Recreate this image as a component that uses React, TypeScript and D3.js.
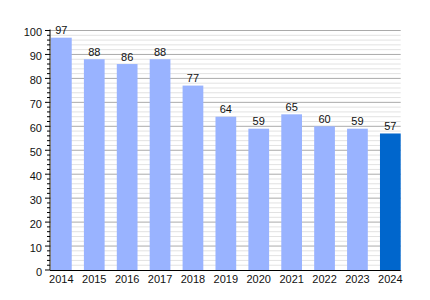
import React from "react";
import * as d3 from "d3";

const years = ["2014", "2015", "2016", "2017", "2018", "2019", "2020", "2021", "2022", "2023", "2024"];
const values = [97, 88, 86, 88, 77, 64, 59, 65, 60, 59, 57];
const yMajorTicks = [0, 10, 20, 30, 40, 50, 60, 70, 80, 90, 100];

const W = 430, H = 300;
const left = 50, right = 400.7, top = 30.5, bottom = 270;

export default function App() {
  const x = d3.scaleBand<string>().domain(years).range([left + 1, right]).paddingInner(0.37).paddingOuter(0);
  const y = d3.scaleLinear().domain([0, 100]).range([bottom, top]);
  const minor = d3.range(0, 101, 2).filter((v) => v % 10 !== 0);
  const font = "Liberation Sans, Arial, sans-serif";
  return (
    <svg width={W} height={H} style={{ position: "absolute", left: 0, top: 0, background: "#fff" }}>
      {minor.map((v) => (
        <line key={"m" + v} x1={left} x2={right} y1={y(v)} y2={y(v)} stroke="#e2e2e2" strokeWidth={1} />
      ))}
      {yMajorTicks.filter((v) => v > 0).map((v) => (
        <line key={"M" + v} x1={left} x2={right} y1={y(v)} y2={y(v)} stroke="#aaaaaa" strokeWidth={1} />
      ))}
      {years.map((yr, i) => (
        <rect
          key={yr}
          x={x(yr)}
          y={y(values[i])}
          width={x.bandwidth()}
          height={bottom - y(values[i])}
          fill={i === years.length - 1 ? "#0066cc" : "#99b3ff"}
        />
      ))}
      {years.map((yr, i) => (
        <text
          key={"v" + yr}
          x={(x(yr) as number) + x.bandwidth() / 2}
          y={y(values[i]) - 3.5}
          textAnchor="middle"
          fontFamily={font}
          fontSize={11}
          fill="#111"
        >
          {values[i]}
        </text>
      ))}
      {/* axes */}
      <line x1={left} x2={left} y1={top - 1} y2={bottom} stroke="#000" strokeWidth={1} />
      <line x1={left} x2={right} y1={bottom + 0.5} y2={bottom + 0.5} stroke="#000" strokeWidth={1} />
      {minor.map((v) => (
        <line key={"mt" + v} x1={left - 3} x2={left} y1={y(v)} y2={y(v)} stroke="#000" strokeWidth={1} />
      ))}
      {yMajorTicks.map((v) => (
        <g key={"t" + v}>
          <line x1={left - 5} x2={left} y1={y(v)} y2={y(v)} stroke="#000" strokeWidth={1} />
          <text x={left - 8} y={y(v) + 5.5} textAnchor="end" fontFamily={font} fontSize={11} fill="#111">
            {v}
          </text>
        </g>
      ))}
      {years.map((yr) => (
        <text
          key={"x" + yr}
          x={(x(yr) as number) + x.bandwidth() / 2}
          y={bottom + 12.5}
          textAnchor="middle"
          fontFamily={font}
          fontSize={11}
          fill="#111"
        >
          {yr}
        </text>
      ))}
    </svg>
  );
}
